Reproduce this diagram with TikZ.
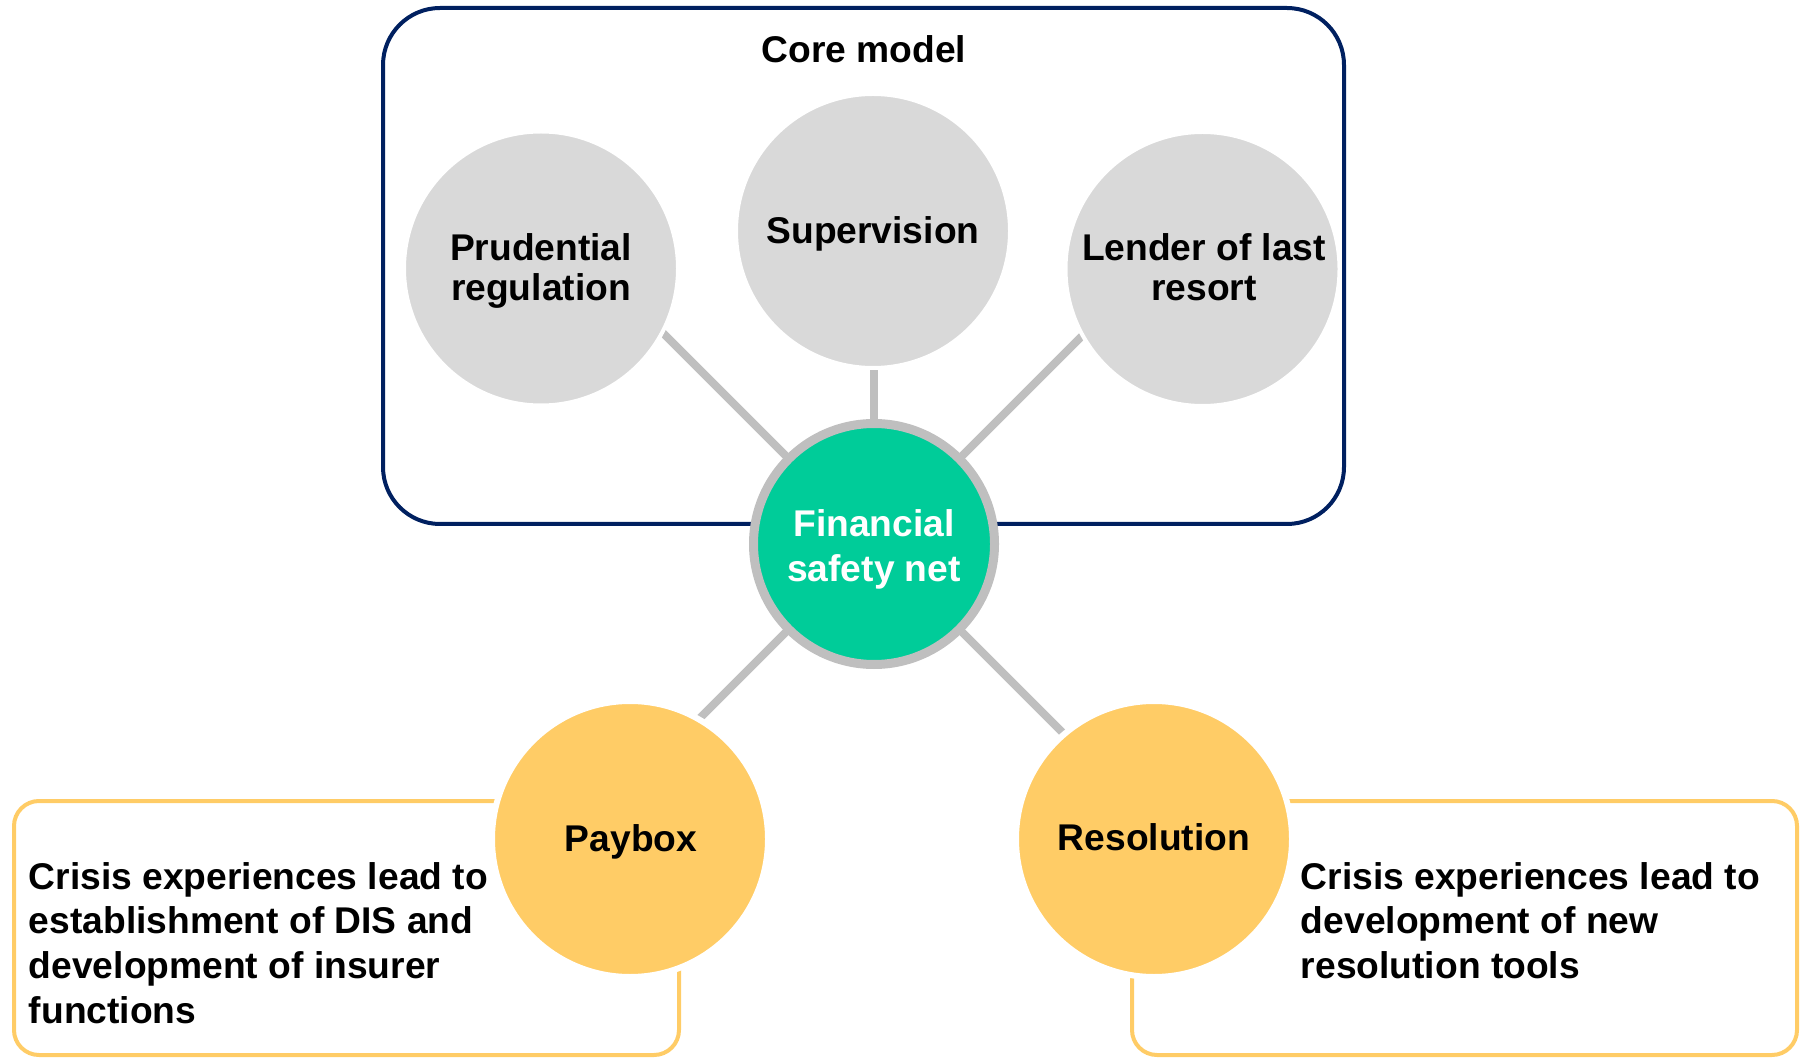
\documentclass[tikz,border=0pt]{standalone}
\usepackage{fontspec}
\setmainfont{Liberation Sans}
\usetikzlibrary{calc}
\definecolor{navy}{HTML}{002060}
\definecolor{circgray}{HTML}{D9D9D9}
\definecolor{conngray}{HTML}{BFBFBF}
\definecolor{yel}{HTML}{FFCC66}
\definecolor{fsngreen}{HTML}{00CC99}
\begin{document}
\begin{tikzpicture}[x=0.5pt,y=-0.5pt,
  conn/.style={draw=conngray, line width=4pt},
  corebox/.style={rectangle, draw=navy, line width=2pt, rounded corners=28.5pt,
    minimum width=480.5pt, minimum height=258pt, inner sep=0pt},
  ybox/.style={rectangle, draw=yel, line width=2pt, rounded corners=12.5pt,
    minimum width=332.5pt, minimum height=127pt, inner sep=0pt},
  graycirc/.style={circle, fill=circgray, draw=white, line width=2pt,
    minimum size=137pt, inner sep=0pt},
  yelcirc/.style={circle, fill=yel, draw=white, line width=3pt,
    minimum size=138pt, inner sep=0pt},
  fsnstyle/.style={circle, fill=fsngreen, draw=conngray, line width=4.5pt,
    minimum size=120.5pt, inner sep=0pt},
  lbl/.style={inner sep=0pt, anchor=base, font=\fontsize{18.6}{20}\selectfont\bfseries},
  boxtxt/.style={inner sep=0pt, anchor=base west, font=\fontsize{18.6}{22.35}\selectfont\bfseries}
]
\useasboundingbox (0,0) rectangle (1804,1058);

% boxes
\node[corebox] (core) at (863.5,266) {};
\node[ybox] (lbox) at (346.5,928) {};
\node[ybox] (rbox) at (1464.5,928) {};

% central node position (drawn last)
\coordinate (fsnc) at (874,544);
\coordinate (ulend) at ($(fsnc)+(-240,-240)$);
\coordinate (urend) at ($(fsnc)+(240,-240)$);
\coordinate (llend) at ($(fsnc)+(-220,220)$);
\coordinate (lrend) at ($(fsnc)+(220,220)$);
\coordinate (supend) at (874,300);

% connectors
\draw[conn] (fsnc) -- (ulend);
\draw[conn] (fsnc) -- (urend);
\draw[conn] (fsnc) -- (llend);
\draw[conn] (fsnc) -- (lrend);
\draw[conn] (fsnc) -- (supend);

% circles
\node[graycirc] (pr) at (541,268.5) {};
\node[graycirc] (sup) at (873,231) {};
\node[graycirc] (lolr) at (1202.5,269) {};
\node[yelcirc] (pay) at (630,839) {};
\node[yelcirc] (res) at (1154,839) {};
\node[fsnstyle] (fsn) at (fsnc) {};

% texts
\node[lbl] (coret) at (864,63) {Core model};
\node[lbl] (prt) at (541,261) {\begin{tabular}[t]{@{}c@{}}Prudential\\regulation\end{tabular}};
\node[lbl] (supt) at (873,243.5) {Supervision};
\node[lbl] (lolrt) at (1204,261) {\begin{tabular}[t]{@{}c@{}}Lender of last\\resort\end{tabular}};
\node[lbl, text=white, font=\fontsize{18.6}{22.5}\selectfont\bfseries] (fsnt) at (874,537)
  {\begin{tabular}[t]{@{}c@{}}Financial\\safety net\end{tabular}};
\node[lbl] (payt) at (631,851) {Paybox};
\node[lbl] (rest) at (1154,850) {Resolution};
\node[boxtxt] (lbt) at (28.5,889) {\begin{tabular}[t]{@{}l@{}}Crisis experiences lead to\\establishment of DIS and\\development of insurer\\functions\end{tabular}};
\node[boxtxt] (rbt) at (1300.5,889) {\begin{tabular}[t]{@{}l@{}}Crisis experiences lead to\\development of new\\resolution tools\end{tabular}};
\end{tikzpicture}
\end{document}
